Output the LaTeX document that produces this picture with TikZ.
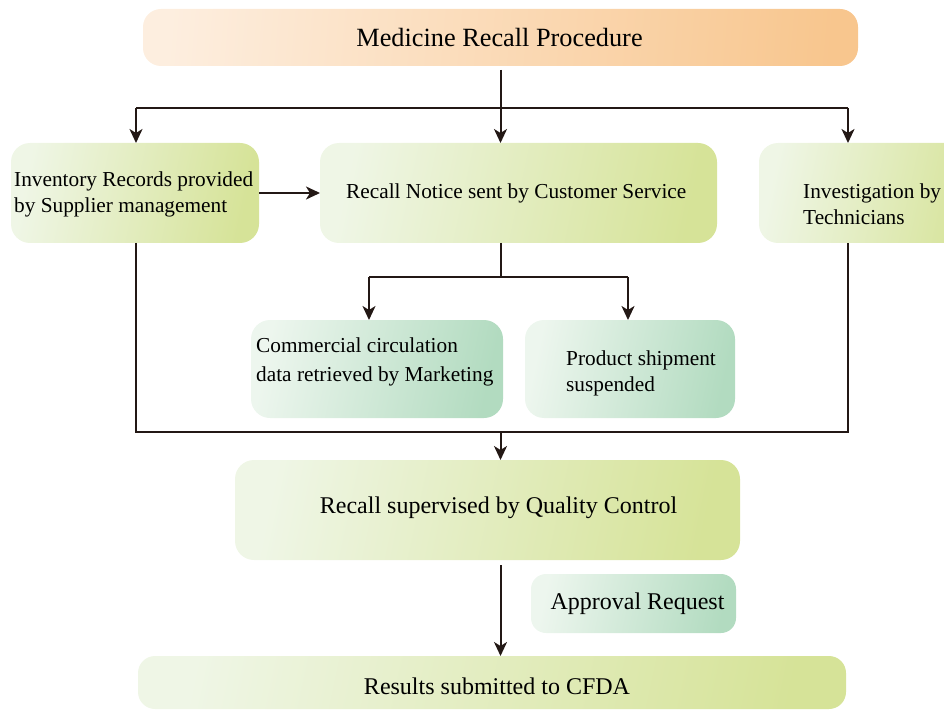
\documentclass[tikz,border=0pt]{standalone}
\usepackage{fontspec}
\setmainfont{Liberation Serif}
\usetikzlibrary{arrows.meta,shadings}
\definecolor{oL}{HTML}{FDEEDF}
\definecolor{oR}{HTML}{F8C68E}
\definecolor{gL}{HTML}{EFF6E6}
\definecolor{gR}{HTML}{D6E398}
\definecolor{tL}{HTML}{EDF6EE}
\definecolor{tR}{HTML}{B2DBC0}
\definecolor{ink}{HTML}{231815}
\tikzset{
  boxbase/.style={draw=none, inner sep=0pt, outer sep=0pt, rounded corners=19pt},
  titlebox/.style={boxbase, left color=oL, right color=oR, shading angle=85},
  greenbox/.style={boxbase, left color=gL, right color=gR, shading angle=78},
  tealbox/.style={boxbase, left color=tL, right color=tR, shading angle=78},
  txt/.style={inner sep=0pt, text=black, font=\fontsize{21.3}{25.5}\selectfont},
  bigtxt/.style={inner sep=0pt, text=black, font=\fontsize{24}{28}\selectfont},
  line/.style={draw=ink, line width=2pt},
  arr/.style={line, -{Stealth[length=14pt, width=13pt, inset=4pt]}},
}
\begin{document}
\begin{tikzpicture}[x=1pt, y=-1pt]
\useasboundingbox (0,0) rectangle (944,711);
\clip (0,0) rectangle (944,711);
% boxes
\node[titlebox, rounded corners=18pt, minimum width=715pt, minimum height=57pt] (title) at (500.5,37.5) {};
\node[greenbox, minimum width=248pt, minimum height=100pt] (inv) at (135,193) {};
\node[greenbox, minimum width=397pt, minimum height=100pt] (notice) at (518.5,193) {};
\node[greenbox, minimum width=231pt, minimum height=100pt] (invest) at (874.5,193) {};
\node[tealbox, minimum width=252pt, minimum height=98pt] (comm) at (377,369) {};
\node[tealbox, minimum width=210pt, minimum height=98pt] (prod) at (630,369) {};
\node[greenbox, minimum width=505pt, minimum height=100pt] (qc) at (487.5,510) {};
\node[tealbox, rounded corners=15pt, minimum width=205pt, minimum height=59pt] (appr) at (633.5,603.5) {};
\node[greenbox, rounded corners=17pt, minimum width=708pt, minimum height=53pt] (res) at (492,682.5) {};
% texts
\node[inner sep=0pt, font=\fontsize{26.3}{30}\selectfont] (title-t) at (499.5,38) {Medicine Recall Procedure};
\node[txt, anchor=west, align=left] (inv-t) at (14,194.5) {Inventory Records provided\\by Supplier management};
\node[txt, anchor=west] (notice-t) at (346,193) {Recall Notice sent by Customer Service};
\node[txt, anchor=west, align=left] (invest-t) at (803,204) {Investigation by\\Technicians};
\node[txt, anchor=west, align=left, font=\fontsize{21.3}{29}\selectfont] (comm-t) at (256,362) {Commercial circulation\\data retrieved by Marketing};
\node[txt, anchor=west, align=left, font=\fontsize{21.3}{26}\selectfont] (prod-t) at (566,373) {Product shipment\\suspended};
\node[bigtxt] (qc-t) at (498.5,508) {Recall supervised by Quality Control};
\node[bigtxt] (appr-t) at (637.5,604) {Approval Request};
\node[bigtxt] (res-t) at (497,686) {Results submitted to CFDA};
% connector coordinates
\coordinate (bl) at (136,108);
\coordinate (br) at (848,108);
\coordinate (nl) at (369,277);
\coordinate (nr) at (628,277);
\coordinate (lb) at (848,432);
% connectors
\draw[arr, shorten <=4pt] (title.south) -- (title.south |- notice.north);
\draw[line] (bl) -- (br);
\draw[arr] (bl) -- (bl |- inv.north);
\draw[arr] (br) -- (br |- invest.north);
\draw[arr] (inv.east) -- (notice.west);
\draw[line] (title.south |- notice.south) -- (title.south |- nl);
\draw[line] (nl) -- (nr);
\draw[arr] (nl) -- (nl |- comm.north);
\draw[arr] (nr) -- (nr |- prod.north);
\draw[line] (bl |- inv.south) |- (lb) -- (lb |- invest.south);
\draw[arr] (title.south |- lb) -- (title.south |- qc.north);
\draw[arr, shorten <=5pt] (title.south |- qc.south) -- (title.south |- res.north);
\end{tikzpicture}
\end{document}
